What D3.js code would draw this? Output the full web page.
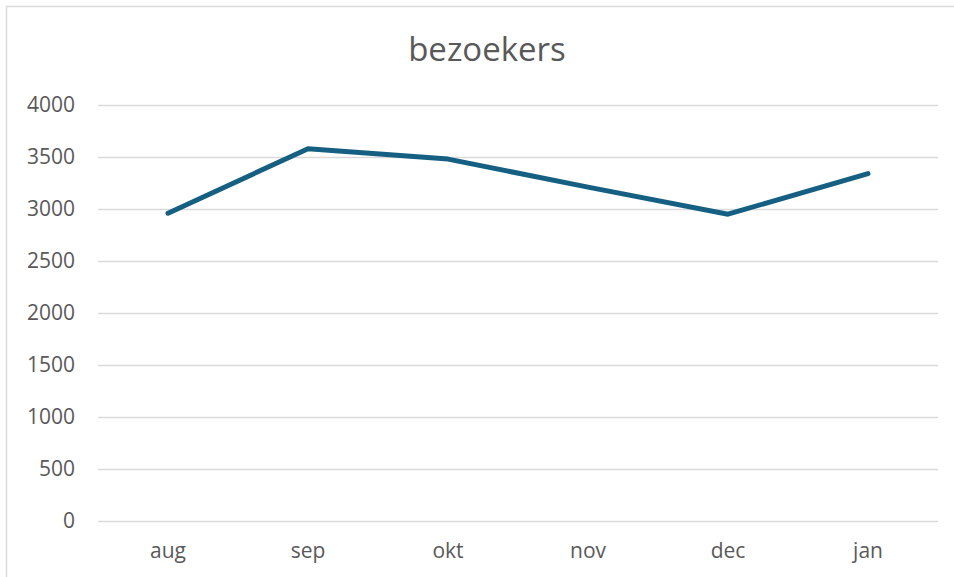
<!DOCTYPE html>
<html>
<head>
<meta charset="utf-8">
<script src="https://cdn.jsdelivr.net/npm/d3@7"></script>
<style>
  body { margin: 0; background: #fff; }
  text { font-family: "Open Sans", "Liberation Sans", sans-serif; fill: #595959; }
</style>
</head>
<body>
<div class="chart"></div>
<script>
// data
let months = ["aug", "sep", "okt", "nov", "dec", "jan"];
let visitors = [2960, 3580, 3480, 3210, 2950, 3340];
let yTicks = [0, 500, 1000, 1500, 2000, 2500, 3000, 3500, 4000];
let chartTitle = "bezoekers";

let svgWidth = 954;
let svgHeight = 577;

let margin = { top: 105, right: 16, bottom: 56, left: 98 };
let width = svgWidth - margin.left - margin.right;
let height = svgHeight - margin.top - margin.bottom;

let svg = d3.select(".chart")
  .append("svg")
  .attr("width", svgWidth)
  .attr("height", svgHeight);

// chart area border (only top/left visible in the frame)
svg.append("rect")
  .attr("x", 6.5)
  .attr("y", 6.5)
  .attr("width", svgWidth + 20)
  .attr("height", svgHeight + 20)
  .attr("fill", "none")
  .attr("stroke", "#d9d9d9")
  .attr("stroke-width", 1.5);

let chartGroup = svg.append("g")
  .attr("transform", `translate(${margin.left}, ${margin.top})`);

let xScale = d3.scaleBand()
  .domain(months)
  .range([0, width]);

let yScale = d3.scaleLinear()
  .domain([0, 4000])
  .range([height, 0]);

// gridlines + y labels
let leftAxis = d3.axisLeft(yScale)
  .tickValues(yTicks)
  .tickSize(-width)
  .tickPadding(23)
  .tickFormat(d3.format("d"));

let yAxisG = chartGroup.append("g").call(leftAxis);
yAxisG.select(".domain").remove();
yAxisG.selectAll("line").attr("stroke", "#d9d9d9").attr("stroke-width", 1.5);
yAxisG.selectAll("text")
  .attr("font-size", "21px")
  .attr("fill", "#595959")
  .attr("font-family", "'Open Sans', sans-serif");

// x labels
let bottomAxis = d3.axisBottom(xScale).tickSize(0).tickPadding(22);
let xAxisG = chartGroup.append("g")
  .attr("transform", `translate(0, ${height})`)
  .call(bottomAxis);
xAxisG.select(".domain").remove();
xAxisG.selectAll("text")
  .attr("font-size", "21px")
  .attr("fill", "#595959")
  .attr("font-family", "'Open Sans', sans-serif");

// the line
let line = d3.line()
  .x((d, i) => xScale(months[i]) + xScale.bandwidth() / 2)
  .y(d => yScale(d));

chartGroup.append("path")
  .datum(visitors)
  .attr("d", line)
  .attr("fill", "none")
  .attr("stroke", "#156082")
  .attr("stroke-width", 5)
  .attr("stroke-linecap", "round")
  .attr("stroke-linejoin", "round");

// title
svg.append("text")
  .attr("x", 487)
  .attr("y", 61)
  .attr("text-anchor", "middle")
  .attr("font-size", "33px")
  .text(chartTitle);
</script>
</body>
</html>
